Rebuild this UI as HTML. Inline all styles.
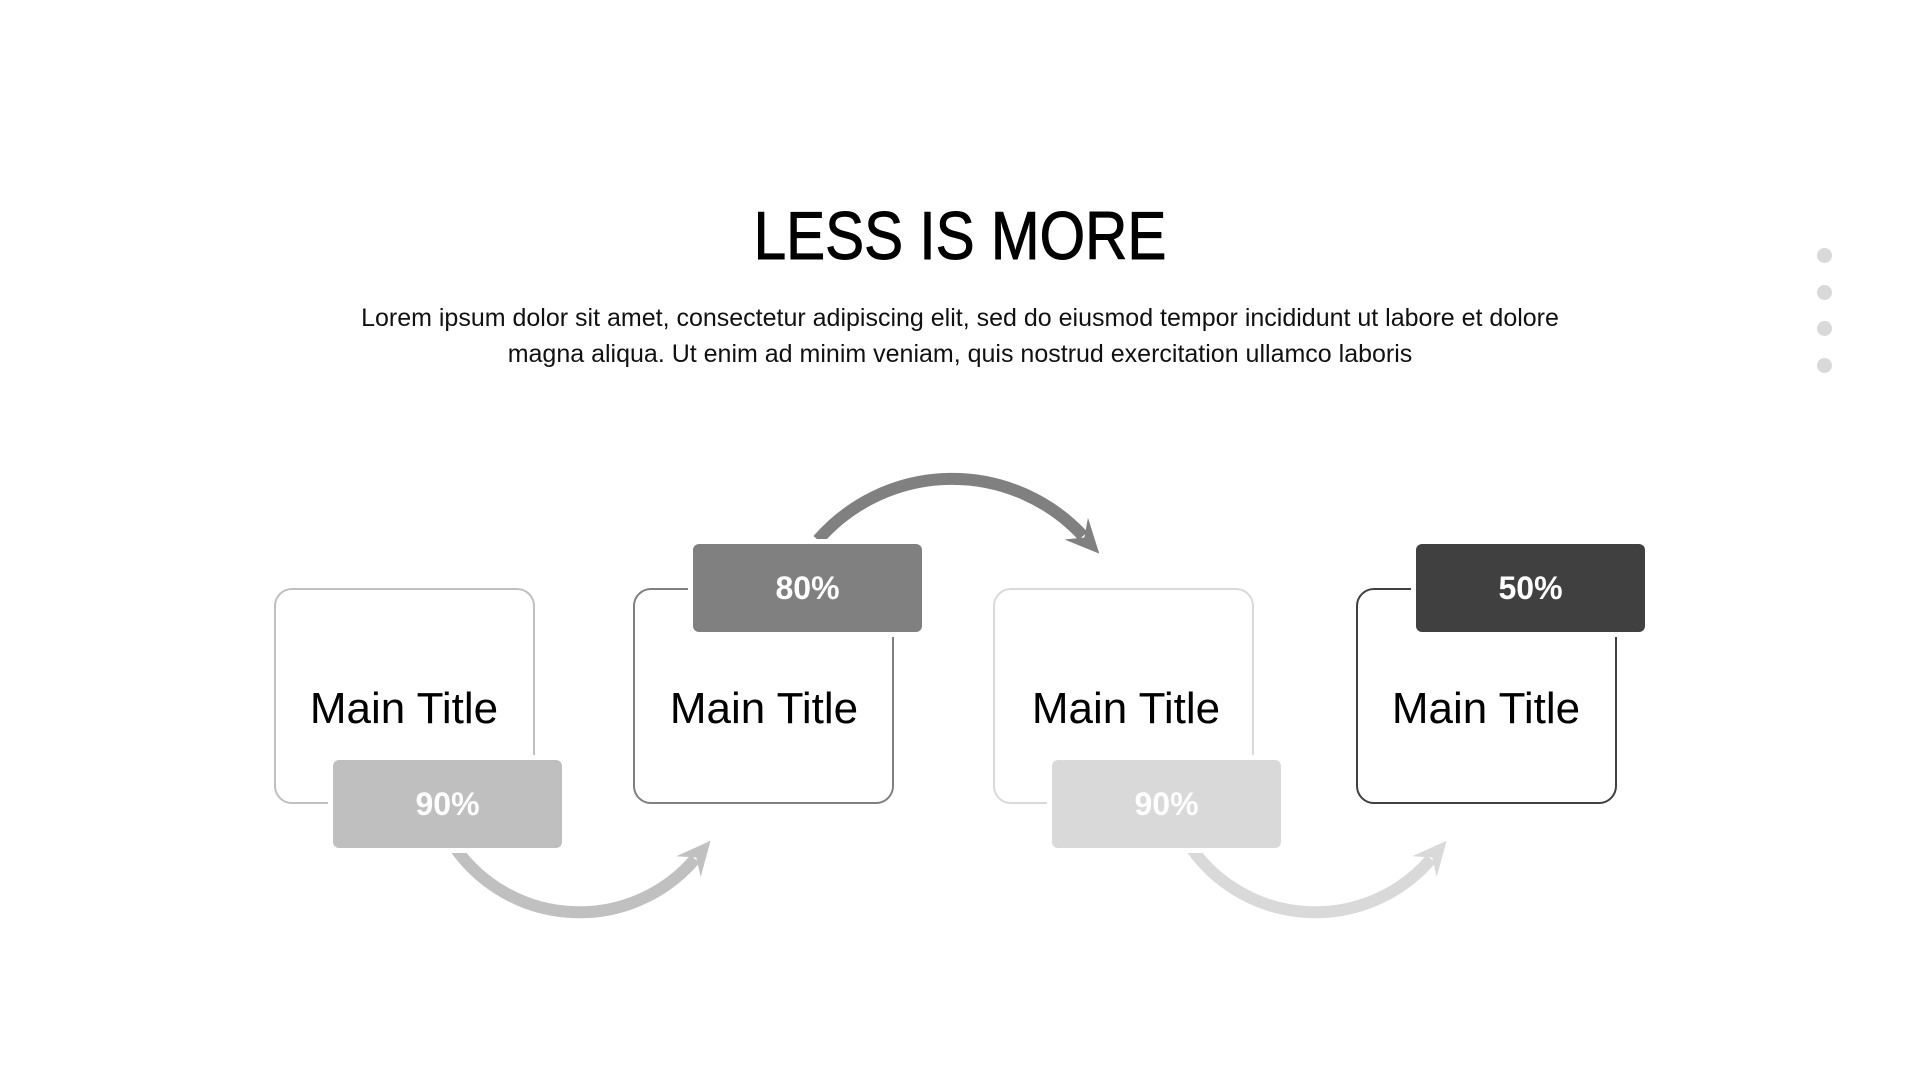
<!DOCTYPE html>
<html><head><meta charset="utf-8"><style>
body{margin:0;width:1920px;height:1080px;background:#fff;position:relative;overflow:hidden;font-family:"Liberation Sans",sans-serif;}
.t{position:absolute;left:0;width:1920px;text-align:center;top:196px;font-size:68px;color:#000;line-height:80px;transform:scaleX(0.86);-webkit-text-stroke:1px #000;}
.p{position:absolute;left:0;width:1920px;text-align:center;top:300px;font-size:25px;line-height:36px;color:#111;}
.dot{position:absolute;left:1817px;width:15px;height:15px;border-radius:50%;background:#d9d9d9;}
.box{position:absolute;top:588px;width:257px;height:212px;border:2px solid;border-radius:18px;background:#fff;}
.mt{position:absolute;top:682px;width:300px;text-align:center;font-size:44px;color:#000;line-height:54px;}
.lb{position:absolute;width:229px;height:88px;border-radius:6px;box-shadow:0 0 0 5px #fff;color:#fff;font-weight:bold;font-size:32px;text-align:center;line-height:88px;}
svg{position:absolute;left:0;top:0;}
</style></head><body>
<svg width="1920" height="1080">
<defs>
<marker id="a1" markerUnits="userSpaceOnUse" markerWidth="60" markerHeight="60" refX="12" refY="30" orient="auto" viewBox="0 0 60 60"><path d="M2,14 L36,30 L2,46 L14,30 z" fill="#c0c0c0"/></marker>
<marker id="a2" markerUnits="userSpaceOnUse" markerWidth="60" markerHeight="60" refX="12" refY="30" orient="auto" viewBox="0 0 60 60"><path d="M2,14 L36,30 L2,46 L14,30 z" fill="#808080"/></marker>
<marker id="a3" markerUnits="userSpaceOnUse" markerWidth="60" markerHeight="60" refX="12" refY="30" orient="auto" viewBox="0 0 60 60"><path d="M2,14 L36,30 L2,46 L14,30 z" fill="#d9d9d9"/></marker>
</defs>
<path d="M456,849 A152,152 0 0 0 695,859" fill="none" stroke="#c0c0c0" stroke-width="12" marker-end="url(#a1)"/>
<path d="M818,540 A178,178 0 0 1 1083,536" fill="none" stroke="#808080" stroke-width="12" marker-end="url(#a2)"/>
<path d="M1192,849 A152,152 0 0 0 1431,859" fill="none" stroke="#d9d9d9" stroke-width="12" marker-end="url(#a3)"/>
</svg>
<div class="t">LESS IS MORE</div>
<div class="p">Lorem ipsum dolor sit amet, consectetur adipiscing elit, sed do eiusmod tempor incididunt ut labore et dolore<br>magna aliqua. Ut enim ad minim veniam, quis nostrud exercitation ullamco laboris</div>
<div class="dot" style="top:248px"></div>
<div class="dot" style="top:285px"></div>
<div class="dot" style="top:321px"></div>
<div class="dot" style="top:358px"></div>

<div class="box" style="left:274px;border-color:#c0c0c0"></div>
<div class="box" style="left:633px;border-color:#808080"></div>
<div class="box" style="left:993px;border-color:#d9d9d9"></div>
<div class="box" style="left:1356px;border-color:#404040"></div>
<div class="mt" style="left:254px">Main Title</div>
<div class="mt" style="left:614px">Main Title</div>
<div class="mt" style="left:976px">Main Title</div>
<div class="mt" style="left:1336px">Main Title</div>
<div class="lb" style="left:333px;top:760px;background:#bfbfbf">90%</div>
<div class="lb" style="left:693px;top:544px;background:#808080">80%</div>
<div class="lb" style="left:1052px;top:760px;background:#d9d9d9">90%</div>
<div class="lb" style="left:1416px;top:544px;background:#404040">50%</div>
</body></html>
